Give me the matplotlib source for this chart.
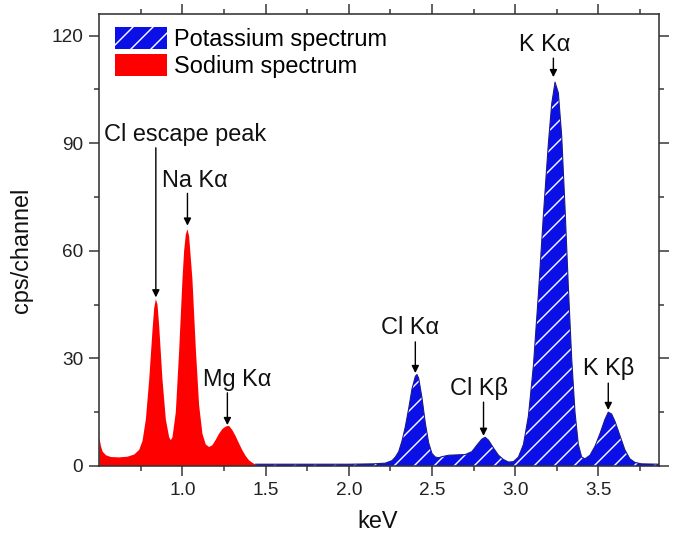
import matplotlib
matplotlib.use("Agg")
import matplotlib.pyplot as plt
from matplotlib.patches import Patch

DPI = 60


def px(v):
    """Convert a size in pixels to points at the output resolution."""
    return v * 72.0 / DPI


plt.rcParams['font.family'] = ['Liberation Sans', 'DejaVu Sans']
plt.rcParams['hatch.linewidth'] = px(1.4)

# Sodium spectrum (keV, cps/channel)
na_energy = [0.50, 0.51, 0.52, 0.54, 0.57, 0.62, 0.67, 0.71, 0.74, 0.76, 0.78, 0.80,
             0.82, 0.83, 0.84, 0.85, 0.86, 0.88, 0.90, 0.92, 0.93, 0.94, 0.96, 0.98,
             1.00, 1.01, 1.02, 1.03, 1.04, 1.06, 1.08, 1.10, 1.12, 1.14, 1.16, 1.18,
             1.20, 1.22, 1.24, 1.26, 1.28, 1.30, 1.32, 1.34, 1.36, 1.38, 1.40, 1.42,
             1.44, 1.46]
na_counts = [8.0, 5.5, 4.0, 3.0, 2.5, 2.4, 2.6, 3.2, 4.5, 7.0, 13.0, 24.0,
             38.0, 44.0, 46.5, 45.0, 39.0, 24.0, 13.0, 8.0, 7.2, 8.0, 15.0, 32.0,
             52.0, 60.0, 64.5, 66.0, 64.0, 52.0, 33.0, 17.0, 9.0, 6.0, 5.3, 5.8,
             7.3, 9.0, 10.3, 11.0, 11.2, 10.0, 8.3, 6.3, 4.4, 2.8, 1.6, 0.9,
             0.4, 0.2]

# Potassium spectrum (keV, cps/channel)
k_energy = [1.44, 1.60, 1.80, 2.00, 2.15, 2.22, 2.26, 2.28, 2.30, 2.32, 2.34, 2.36,
            2.38, 2.40, 2.41, 2.42, 2.44, 2.46, 2.48, 2.50, 2.52, 2.54, 2.56, 2.60,
            2.65, 2.70, 2.74, 2.77, 2.80, 2.82, 2.84, 2.87, 2.90, 2.93, 2.96, 2.99,
            3.02, 3.05, 3.08, 3.11, 3.14, 3.17, 3.20, 3.22, 3.24, 3.26, 3.28, 3.30,
            3.32, 3.34, 3.36, 3.38, 3.40, 3.42, 3.45, 3.48, 3.51, 3.54, 3.56, 3.58,
            3.60, 3.63, 3.66, 3.69, 3.72, 3.76, 3.87]
k_counts = [0.5, 0.5, 0.5, 0.5, 0.6, 0.8, 1.5, 2.5, 4.0, 7.0, 11.0, 16.0,
            21.5, 25.0, 25.5, 24.5, 19.0, 12.0, 6.5, 3.5, 2.5, 2.3, 2.6, 3.0,
            3.1, 3.2, 4.0, 5.8, 7.5, 8.0, 7.2, 5.0, 3.0, 1.8, 1.1, 1.2,
            2.5, 6.0, 14.0, 28.0, 48.0, 70.0, 90.0, 101.0, 107.0, 104.0, 92.0, 72.0,
            50.0, 30.0, 15.0, 6.0, 2.5, 2.0, 3.0, 5.5, 9.0, 13.0, 15.0, 14.5,
            12.5, 8.5, 4.5, 2.0, 1.0, 0.6, 0.5]

# Peak labels: text, peak energy, peak height, arrow start, text position
peak_labels = ["Cl escape peak", "Na K\u03b1", "Mg K\u03b1", "Cl K\u03b1",
               "Cl K\u03b2", "K K\u03b1", "K K\u03b2"]
peak_energy = [0.84, 1.03, 1.27, 2.40, 2.81, 3.23, 3.56]
peak_height = [47.0, 67.0, 11.4, 25.9, 8.4, 108.4, 15.6]
arrow_start = [88.7, 76.0, 20.4, 34.6, 17.8, 113.7, 23.1]
label_x = [1.017, 1.077, 1.327, 2.37, 2.78, 3.18, 3.56]
label_y = [92.3, 79.7, 24.0, 38.5, 21.7, 117.4, 27.3]

x_ticks = [1.0, 1.5, 2.0, 2.5, 3.0, 3.5]
y_ticks = [0, 30, 60, 90, 120]

fig = plt.figure(figsize=(673 / DPI, 537 / DPI), dpi=DPI)
ax = fig.add_axes([99.3 / 673, 1 - 466 / 537, (659 - 99.3) / 673, (466 - 14) / 537])

blue = '#0a10e6'
red = '#ff0000'
text_size = px(23.5)

ax.fill_between(na_energy, 0, na_counts, facecolor=red, edgecolor='none', lw=0, zorder=2)
ax.fill_between(k_energy, 0, k_counts, facecolor=blue, edgecolor='white', hatch='/',
                lw=0, zorder=2)
ax.plot(k_energy, k_counts, color='#1a1a8c', lw=px(1.1), zorder=3)

for txt, xe, yp, ys, tx, ty in zip(peak_labels, peak_energy, peak_height, arrow_start,
                                   label_x, label_y):
    ax.annotate('', xy=(xe, yp), xytext=(xe, ys),
                arrowprops=dict(arrowstyle='-|>', color='black', lw=px(1.4),
                                mutation_scale=px(15), shrinkA=0, shrinkB=0), zorder=5)
    ax.text(tx, ty, txt, ha='center', va='center', fontsize=text_size,
            color='#111111', zorder=5)

ax.set_xlim(0.5, 3.865)
ax.set_ylim(0, 126)
ax.set_xticks(x_ticks)
ax.set_xticklabels([f"{v:.1f}" for v in x_ticks])
ax.set_yticks(y_ticks)
ax.set_xticks([0.75, 1.25, 1.75, 2.25, 2.75, 3.25, 3.75], minor=True)
ax.set_yticks([15, 45, 75, 105], minor=True)

for s in ax.spines.values():
    s.set_linewidth(px(1.6))
    s.set_color('#333333')

ax.tick_params(which='both', direction='out', top=True, right=True,
               labeltop=False, labelright=False, color='#333333', width=px(1.5))
ax.tick_params(which='major', length=px(10), labelsize=px(19), labelcolor='#222222',
               pad=px(6))
ax.tick_params(which='minor', length=px(5))

ax.set_xlabel('keV', fontsize=text_size, color='#111111', va='center')
ax.set_ylabel('cps/channel', fontsize=text_size, color='#111111', va='center')
ax.xaxis.set_label_coords((378 - 99.3) / (659 - 99.3), (466 - 521) / (466 - 14))
ax.yaxis.set_label_coords((22 - 99.3) / (659 - 99.3), (466 - 250) / (466 - 14))

handles = [Patch(facecolor=blue, edgecolor='white', hatch='/', lw=0),
           Patch(facecolor=red, edgecolor='none', lw=0)]
ax.legend(handles, ['Potassium spectrum', 'Sodium spectrum'], loc='upper left',
          bbox_to_anchor=((115 - 99.3) / (659 - 99.3), 1 - (27 - 14) / (466 - 14)),
          frameon=False, fontsize=text_size, handlelength=2.2, handleheight=1.06,
          handletextpad=0.3, labelspacing=0.12, borderpad=0, borderaxespad=0)

fig.savefig('out.png', dpi=DPI)
